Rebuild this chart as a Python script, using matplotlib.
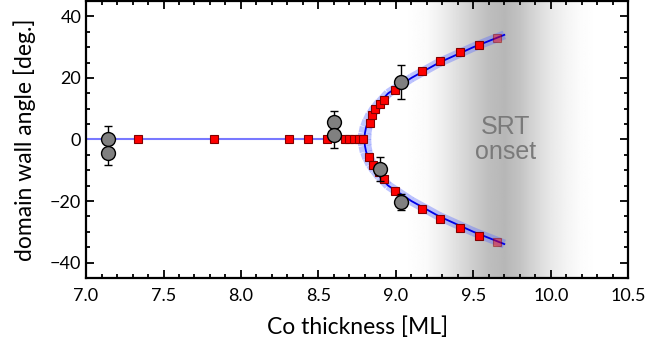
import numpy as np
import matplotlib.pyplot as plt
from matplotlib.collections import LineCollection
from matplotlib.ticker import MultipleLocator

# gray background profile (SRT onset region)
grad_x = [9.05, 9.2, 9.3, 9.4, 9.5, 9.6, 9.7, 9.8, 9.9, 10.0, 10.1, 10.2, 10.3]
grad_v = [255, 250, 238, 222, 205, 190, 183, 195, 215, 232, 244, 252, 255]

# red squares on the zero line
zero_x = [7.333, 7.824, 8.31, 8.435, 8.555, 8.67, 8.70, 8.73, 8.76, 8.79]

# red squares on the branches
up_x = [8.83, 8.846, 8.868, 8.898, 8.922, 8.995, 9.167, 9.287, 9.412, 9.535]
up_y = [5.3, 8.0, 9.8, 11.5, 12.7, 16.2, 22.2, 25.4, 28.3, 30.8]
lo_x = [8.827, 8.85, 8.889, 8.922, 8.995, 9.167, 9.287, 9.412, 9.535]
lo_y = [-5.6, -8.4, -10.5, -13.0, -16.8, -22.5, -25.9, -28.8, -31.3]
fade_x = [9.653, 9.653]
fade_y = [33.0, -33.3]

# curve through the branches (top end -> vertex -> bottom end)
curve_x = [9.70, 9.50, 9.28, 9.10, 8.95, 8.895, 8.865, 8.84, 8.822, 8.808, 8.800, 8.797,
           8.800, 8.808, 8.822, 8.84, 8.865, 8.895, 8.95, 9.10, 9.28, 9.50, 9.70]
curve_y = [34, 30, 25, 20, 15, 12, 10, 8, 6, 4, 2, 0,
           -2, -4, -6, -8, -10, -12, -15, -20, -25, -30, -34]

# measured points with error bars
meas_x = [7.14, 7.14, 8.60, 8.60, 9.033, 8.898, 9.03]
meas_y = [0.1, -4.4, 5.6, 1.5, 18.6, -9.7, -20.3]
meas_e = [4.3, 4.0, 3.7, 4.3, 5.5, 3.9, 2.6]

fig = plt.figure(figsize=(6.47, 3.41), dpi=100)
ax = fig.add_axes([0.133, 0.185, 0.838, 0.812])

gx = np.linspace(9.0, 10.4, 300)
gv = np.interp(gx, grad_x, grad_v)
ax.imshow(gv[np.newaxis, :], extent=(9.0, 10.4, -45, 45), aspect='auto',
          cmap='gray', vmin=0, vmax=255, zorder=0, interpolation='bilinear')

ax.plot([7.0, 8.80], [0, 0], color='#7878ff', lw=1.5, zorder=2)

# light blue band, a bit wider near the vertex
pts = np.column_stack([curve_x, curve_y])
segs = np.stack([pts[:-1], pts[1:]], axis=1)
mid_y = np.abs((pts[:-1, 1] + pts[1:, 1]) / 2)
band = LineCollection(segs, colors='#5c6cff', alpha=0.4,
                      linewidths=np.interp(mid_y, [0, 14], [10, 6.5]),
                      capstyle='butt', zorder=2)
ax.add_collection(band)
ax.plot(curve_x, curve_y, color='#0000e6', lw=1.3, zorder=3)

sq = dict(marker='s', ms=6, mfc='#ff0000', mec='#800000', mew=0.8, ls='none', zorder=4)
ax.plot(zero_x, [0] * len(zero_x), **sq)
ax.plot(up_x, up_y, **sq)
ax.plot(lo_x, lo_y, **sq)
ax.plot(fade_x, fade_y, alpha=0.45, **sq)

ax.errorbar(meas_x, meas_y, yerr=meas_e, fmt='o', ms=10, mfc='#808080',
            mec='black', mew=1, ecolor='black', elinewidth=1, capsize=3,
            capthick=1, zorder=5)

ax.text(9.71, 0, 'SRT\nonset', color='#7a7a7a', fontsize=18, ha='center',
        va='center', family='Liberation Sans', linespacing=1.05, zorder=3)

ax.set_xlim(7.0, 10.5)
ax.set_ylim(-45, 45)
ax.xaxis.set_major_locator(MultipleLocator(0.5))
ax.xaxis.set_minor_locator(MultipleLocator(0.1))
ax.yaxis.set_major_locator(MultipleLocator(20))
ax.yaxis.set_minor_locator(MultipleLocator(5))
ax.tick_params(which='both', direction='in', top=True, right=True, width=1.3)
ax.tick_params(which='major', length=6, labelsize=13)
ax.tick_params(which='minor', length=3)
ax.tick_params(axis='x', which='major', pad=7)
for lab in ax.get_xticklabels() + ax.get_yticklabels():
    lab.set_family('Lato')
for s in ax.spines.values():
    s.set_linewidth(1.6)

ax.set_xlabel('Co thickness [ML]', fontsize=16.5, family='Lato', labelpad=9)
ax.set_ylabel('domain wall angle [deg.]', fontsize=16.5, family='Lato', labelpad=10)

fig.savefig('out.png', dpi=100)
